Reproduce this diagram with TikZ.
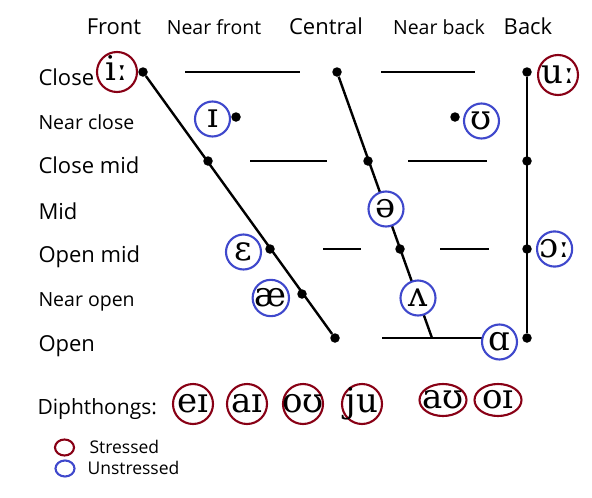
\documentclass[tikz,border=0pt]{standalone}
\usepackage{fontspec}
\setmainfont{Open Sans}
\newfontfamily\ipafont{DejaVu Serif}
\usetikzlibrary{positioning,shapes.geometric}

\definecolor{stressred}{HTML}{880015}
\definecolor{unstressblue}{HTML}{3F48CC}

\tikzset{
  vdot/.style={circle, fill=black, inner sep=0pt, minimum size=9.5pt},
  chartline/.style={line width=2.4pt},
  ipa/.style={fill=white, line width=2.1pt, inner sep=0pt, font=\ipafont\fontsize{34}{34}\selectfont, text height=17.5pt, text depth=0pt},
  stressed/.style={ipa, circle, draw=stressred, minimum size=40pt},
  unstressed/.style={ipa, circle, draw=unstressblue, minimum size=35pt},
  diphthong/.style={stressed, inner sep=-5pt},
  wide/.style={ellipse, minimum width=47pt, minimum height=32pt},
  colhead/.style={anchor=base, font=\fontsize{22}{22}\selectfont},
  colsub/.style={anchor=base, font=\fontsize{19.5}{19.5}\selectfont},
  rowhead/.style={anchor=base west, font=\fontsize{22}{22}\selectfont},
  rowsub/.style={anchor=base west, font=\fontsize{19.5}{19.5}\selectfont},
  keyring/.style={ellipse, line width=2.1pt, inner sep=0pt, minimum width=19pt, minimum height=16pt},
  keytext/.style={anchor=base west, font=\fontsize{17.5}{17.5}\selectfont},
}

\begin{document}
\begin{tikzpicture}[x=1pt,y=-1pt]
  \useasboundingbox (0,0) rectangle (592,498) ;

  % Column labels
  \node[colhead] (front)      at (114,34) {Front} ;
  \node[colsub]  (near_front) at (214,34) {Near front} ;
  \node[colhead] (central)    at (326,34) {Central} ;
  \node[colsub]  (near_back)  at (439,34) {Near back} ;
  \node[colhead] (back)       at (528,34) {Back} ;

  % Row labels
  \node[rowhead] (close)      at (35,85)  {Close} ;
  \node[rowsub]  (near_close) at (35,129) {Near close} ;
  \node[rowhead] (close_mid)  at (35,173) {Close mid} ;
  \node[rowhead] (mid)        at (35,219) {Mid} ;
  \node[rowhead] (open_mid)   at (35,262) {Open mid} ;
  \node[rowsub]  (near_open)  at (35,306) {Near open} ;
  \node[rowhead] (open)       at (35,351) {Open} ;

  % Dots
  \node[vdot] (c_f)  at (143,72)  {} ;
  \node[vdot] (c_c)  at (337,72)  {} ;
  \node[vdot] (c_b)  at (527,72)  {} ;
  \node[vdot] (nc_f) at (236,117) {} ;
  \node[vdot] (nc_b) at (455,117) {} ;
  \node[vdot] (cm_f) at (208,161) {} ;
  \node[vdot] (cm_c) at (368,161) {} ;
  \node[vdot] (cm_b) at (527,161) {} ;
  \node[vdot] (om_f) at (270,249) {} ;
  \node[vdot] (om_c) at (400,249) {} ;
  \node[vdot] (om_b) at (527,249) {} ;
  \node[vdot] (no_f) at (302,294) {} ;
  \node[vdot] (o_f)  at (335,338) {} ;
  \node[vdot] (o_b)  at (527,338) {} ;
  \coordinate (o_c) at (432,338) ;

  % Free ends of the row lines
  \coordinate (c_l1)  at (185,72) ;  \coordinate (c_r1)  at (300,72) ;
  \coordinate (c_l2)  at (381,72) ;  \coordinate (c_r2)  at (475,72) ;
  \coordinate (cm_l1) at (250,161) ; \coordinate (cm_r1) at (327,161) ;
  \coordinate (cm_l2) at (408,161) ; \coordinate (cm_r2) at (487,161) ;
  \coordinate (om_l1) at (323,249) ; \coordinate (om_r1) at (361,249) ;
  \coordinate (om_l2) at (440,249) ; \coordinate (om_r2) at (489,249) ;
  \coordinate (o_l)   at (382,338) ; \coordinate (o_r)   at (486,338) ;

  % Connect the nodes
  \draw[chartline] (c_f) -- (o_f) ; %
  \draw[chartline] (c_c) -- (o_c) ; %
  \draw[chartline] (c_b) -- (o_b) ; %
  \draw[chartline] (c_l1) -- (c_r1) ; %
  \draw[chartline] (c_l2) -- (c_r2) ; %
  \draw[chartline] (cm_l1) -- (cm_r1) ; %
  \draw[chartline] (cm_l2) -- (cm_r2) ; %
  \draw[chartline] (om_l1) -- (om_r1) ; %
  \draw[chartline] (om_l2) -- (om_r2) ; %
  \draw[chartline] (o_l) -- (o_r) ; %

  % Vowels
  \node[stressed, left=0pt of c_f]                  (i_long) {iː} ;
  \node[stressed, right=5pt of c_b, yshift=-3pt]    (u_long) {uː} ;
  \node[unstressed, left=0pt of nc_f, yshift=-2pt]  (i_short) {ɪ} ;
  \node[unstressed, right=3pt of nc_b, yshift=-4pt] (u_short) {ʊ} ;
  \node[unstressed] (schwa) at (386,209)                {ə} ;
  \node[unstressed, left=3pt of om_f, yshift=-3pt]  (eps) {ɛ} ;
  \node[unstressed, left=7pt of no_f, yshift=-4pt]  (ae) {æ} ;
  \node[unstressed] (wedge) at (418,298)                {ʌ} ;
  \node[unstressed, left=4pt of o_b, yshift=-4pt]   (alpha) {ɑ} ;
  \node[unstressed, right=4pt of om_b]              (o_long) {ɔː} ;

  % Diphthongs
  \node[rowhead, font=\fontsize{21}{21}\selectfont] (diph) at (34,414) {Diphthongs:} ;
  \node[diphthong] (ei) at (193,404) {eɪ} ;
  \node[diphthong] (ai) at (247,404) {aɪ} ;
  \node[diphthong] (ou) at (303,404) {oʊ} ;
  \node[diphthong] (ju) at (362,404) {ju} ;
  \node[diphthong, wide] (au) at (443,400) {aʊ} ;
  \node[diphthong, wide] (oi) at (498,400) {oɪ} ;

  % Key
  \node[keyring, draw=stressred]    (key_s) at (64.5,447.5) {} ;
  \node[keyring, draw=unstressblue] (key_u) at (65,468.5) {} ;
  \node[keytext] (key_s_text) at (86,453) {Stressed} ;
  \node[keytext] (key_u_text) at (84,474) {Unstressed} ;
\end{tikzpicture}
\end{document}
